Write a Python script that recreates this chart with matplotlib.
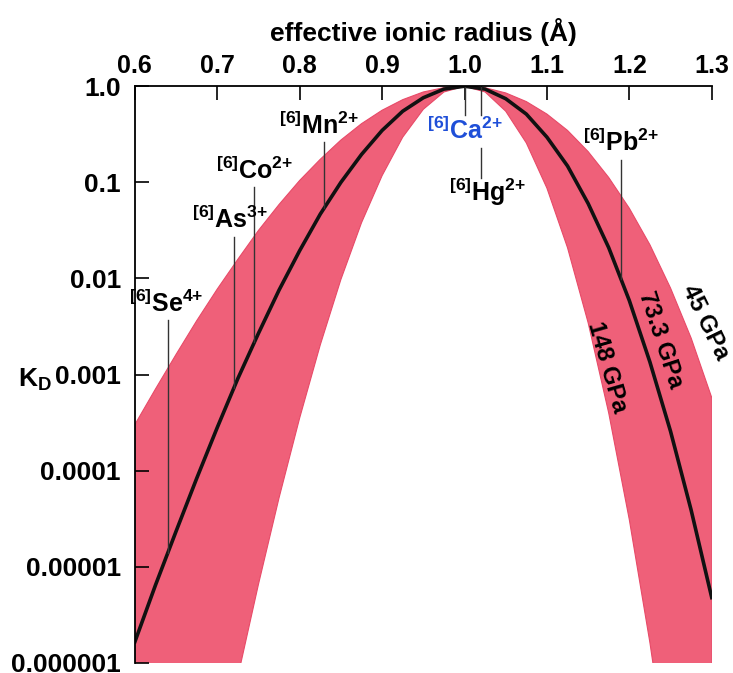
import numpy as np
import matplotlib
matplotlib.use('Agg')
import matplotlib.pyplot as plt

plt.rcParams['font.family'] = ['Liberation Sans', 'DejaVu Sans']
plt.rcParams['font.weight'] = 'bold'
plt.rcParams['mathtext.default'] = 'regular'

# ионный радиус, Å
radius = [0.600, 0.625, 0.650, 0.675, 0.700, 0.725, 0.750, 0.775, 0.800, 0.825,
          0.850, 0.875, 0.900, 0.925, 0.950, 0.975, 1.000, 1.025, 1.050, 1.075,
          1.100, 1.125, 1.150, 1.175, 1.200, 1.225, 1.250, 1.275, 1.300]
# log10(KD)
log_kd_73 = [-5.78, -5.19, -4.63, -4.08, -3.55, -3.04, -2.57, -2.12, -1.71, -1.33,
             -1.00, -0.71, -0.46, -0.26, -0.12, -0.03, 0.00, -0.03, -0.13, -0.29,
             -0.53, -0.83, -1.22, -1.68, -2.23, -2.87, -3.59, -4.41, -5.32]
log_kd_45 = [-3.52, -3.15, -2.79, -2.44, -2.11, -1.80, -1.50, -1.23, -0.98, -0.76,
             -0.56, -0.39, -0.25, -0.14, -0.06, -0.015, 0.00, -0.016, -0.07, -0.16,
             -0.29, -0.46, -0.68, -0.95, -1.27, -1.65, -2.10, -2.62, -3.24]
log_kd_148 = [-11.67, -10.49, -9.34, -8.23, -7.16, -6.14, -5.18, -4.28, -3.45, -2.69,
              -2.01, -1.42, -0.93, -0.53, -0.24, -0.06, 0.00, -0.06, -0.26, -0.59,
              -1.06, -1.68, -2.46, -3.40, -4.51, -5.79, -7.25, -8.90, -10.74]

ions = ['Se', 'As', 'Co', 'Mn', 'Ca', 'Hg', 'Pb']
charges = ['4{+}', '3{+}', '2{+}', '2{+}', '2{+}', '2{+}', '2{+}']
ion_radius = [0.64, 0.72, 0.745, 0.83, 1.00, 1.02, 1.19]

yticks = [1, 0.1, 0.01, 0.001, 0.0001, 0.00001, 0.000001]
ytick_labels = ['1.0', '0.1', '0.01', '0.001', '0.0001', '0.00001', '0.000001']
xticks = [0.6, 0.7, 0.8, 0.9, 1.0, 1.1, 1.2, 1.3]

r = np.array(radius)
kd_73 = 10 ** np.array(log_kd_73)
kd_45 = 10 ** np.array(log_kd_45)
kd_148 = 10 ** np.array(log_kd_148)

fig = plt.figure(figsize=(7.33, 6.73), dpi=100)
ax = fig.add_axes([0.184, 0.0149, 0.787, 0.857])

pink = '#EF6079'
ax.fill_between(r, kd_148, kd_45, color=pink, lw=0.8, edgecolor='#E84A68')
ax.plot(r, kd_73, color='#111111', lw=2.6)

ax.set_yscale('log')
ax.set_xlim(0.6, 1.3)
ax.set_ylim(1e-6, 1)

ax.spines['right'].set_visible(False)
ax.spines['bottom'].set_visible(False)
ax.spines['top'].set_linewidth(1.3)
ax.spines['left'].set_linewidth(1.3)

ax.xaxis.tick_top()
ax.xaxis.set_label_position('top')
ax.set_xticks(xticks)
ax.set_xticklabels(['%.1f' % t for t in xticks])
ax.tick_params(axis='x', direction='in', length=10, width=1.2, labelsize=18, pad=6)
ax.set_xlabel('effective ionic radius (Å)', fontsize=19, fontweight='bold', labelpad=9)

ax.set_yticks(yticks)
ax.set_yticklabels(ytick_labels)
ax.yaxis.set_minor_locator(matplotlib.ticker.NullLocator())
ax.tick_params(axis='y', direction='in', length=10, width=1.2, labelsize=19, pad=10)
fig.text(0.024, 0.425, r'K$_D$', fontsize=19, fontweight='bold')

# подписи ионов и выноски
lab = dict(Se=(0.638, 0.0055, 0.0037), As=(0.715, 0.041, 0.027),
           Co=(0.745, 0.134, 0.089), Mn=(0.823, 0.39, 0.26),
           Pb=(1.19, 0.26, 0.17))
for name, ch, x in zip(ions, charges, ion_radius):
    txt = r'$^{[6]}$' + name + r'$^{' + ch + '}$'
    y_curve = 10 ** np.interp(x, r, log_kd_73)
    if name in lab:
        tx, ty, ytop = lab[name]
        ax.plot([x, x], [y_curve, ytop], color='#333333', lw=1)
        ax.text(tx, ty, txt, fontsize=18, fontweight='bold', ha='center', va='center')
    elif name == 'Ca':
        ax.plot([x, x], [1, 0.5], color='#333333', lw=1)
        ax.text(1.001, 0.35, txt, fontsize=18, fontweight='bold', color='#1F4FD8',
                ha='center', va='center')
    else:
        ax.plot([x, x], [1, 0.5], color='#333333', lw=1)
        ax.plot([x, x], [0.23, 0.11], color='#333333', lw=1)
        ax.text(1.028, 0.08, txt, fontsize=18, fontweight='bold', ha='center', va='center')

ax.text(1.173, 0.0012, '148 GPa', fontsize=17, fontweight='bold', rotation=-74,
        ha='center', va='center')
ax.text(1.238, 0.0023, '73.3 GPa', fontsize=17, fontweight='bold', rotation=-72,
        ha='center', va='center')
ax.text(1.292, 0.0035, '45 GPa', fontsize=17, fontweight='bold', rotation=-64,
        ha='center', va='center')

fig.savefig('out.png', dpi=100)
